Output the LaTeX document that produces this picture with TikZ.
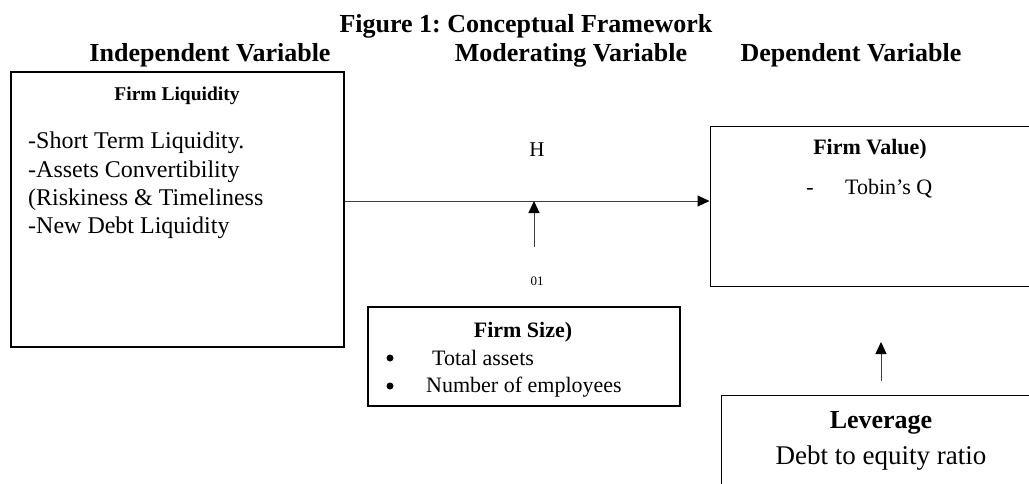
\documentclass[tikz,border=0pt]{standalone}
\usepackage{fontspec}
\setmainfont{Liberation Serif}
\usetikzlibrary{arrows.meta}

\newcommand{\fs}[1]{\fontsize{#1}{#1}\selectfont}
\frenchspacing

\begin{document}
\begin{tikzpicture}[x=1pt,y=-1pt]
    \clip (0,0) rectangle (1029,483);

    % headings
    \begin{scope}[every node/.style={anchor=base, inner sep=0pt, font=\bfseries\fs{26}}]
        \node (T)  at (526,32) {Figure 1: Conceptual Framework};
        \node (IV) at (210,61) {Independent Variable};
        \node (MV) at (571,61) {Moderating Variable};
        \node (DV) at (851,61) {Dependent Variable};
    \end{scope}

    % boxes
    \begin{scope}[every node/.style={draw, rectangle, inner sep=0pt}]
        \node[line width=1.8pt, minimum width=333pt, minimum height=275pt] (A) at (177.5,209.5) {};
        \node[line width=1.8pt, minimum width=312pt, minimum height=99pt]  (B) at (524,356.5)   {};
        \node[line width=1pt,   minimum width=340pt, minimum height=160pt] (C) at (880,206)     {};
        \node[line width=1pt,   minimum width=330pt, minimum height=120pt] (D) at (886,455)     {};
    \end{scope}

    % box texts
    \begin{scope}[every node/.style={inner sep=0pt}]
        \node[anchor=base, font=\bfseries\fs{19.5}] (A0) at (177,100) {Firm Liquidity};
        \node[anchor=base west, font=\fs{24}] (A1) at (28,148) {-Short Term Liquidity.};
        \node[anchor=base west, font=\fs{24}] (A2) at (28,177) {-Assets Convertibility};
        \node[anchor=base west, font=\fs{24}] (A3) at (28,205) {(Riskiness \& Timeliness};
        \node[anchor=base west, font=\fs{24}] (A4) at (28,233) {-New Debt Liquidity};

        \node[anchor=base, font=\bfseries\fs{22}] (B0) at (523,337) {Firm Size)};
        \node[circle, fill, minimum size=7pt] (B1) at (390,358) {};
        \node[anchor=base west, font=\fs{22}]  (B2) at (432,365) {Total assets};
        \node[circle, fill, minimum size=7pt] (B3) at (390,386) {};
        \node[anchor=base west, font=\fs{22}]  (B4) at (426,392) {Number of employees};

        \node[anchor=base, font=\bfseries\fs{22}] (C0) at (870,154) {Firm Value)};
        \node[anchor=base, font=\fs{22}]       (C1) at (810,194) {-};
        \node[anchor=base west, font=\fs{22}]  (C2) at (845,194) {Tobin’s Q};

        \node[anchor=base, font=\bfseries\fs{26}] (D0) at (881,428) {Leverage};
        \node[anchor=base, font=\fs{27}]       (D1) at (881,464) {Debt to equity ratio};

        \node[anchor=base, font=\fs{21}] (H)   at (537,156) {H};
        \node[anchor=base, font=\fs{13}] (N01) at (537,285) {01};
    \end{scope}

    % connectors
    \coordinate (X) at (534,201);
    \coordinate (Y) at (534,247);
    \coordinate (L) at (881,381);
    \coordinate (M) at (881,342);
    \begin{scope}[>={Triangle[length=12pt,width=11pt,black]},
                    every path/.style={draw=black!75, line width=1pt}]
        \path [->] (X -| A.east) -- (X -| C.west);
        \path [->] (Y) -- (X);
        \path [->] (L) -- (M);
    \end{scope}
\end{tikzpicture}
\end{document}
